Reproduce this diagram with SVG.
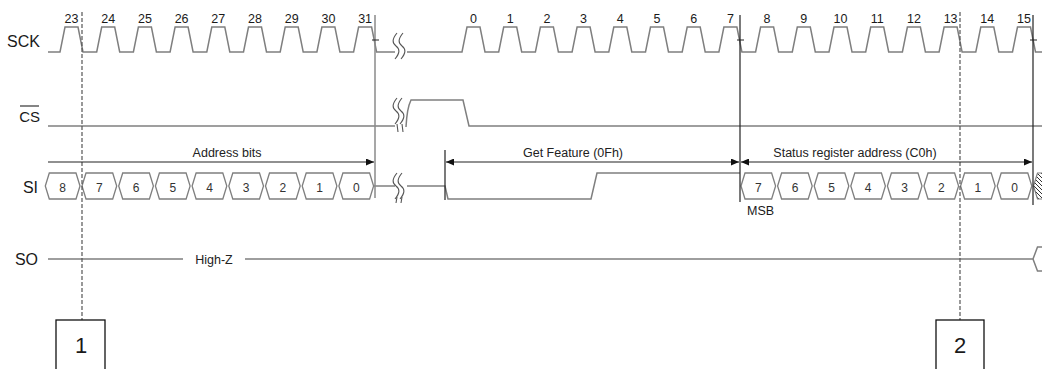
<svg xmlns="http://www.w3.org/2000/svg" width="1042" height="369" viewBox="0 0 1042 369">
<style>
.sig{fill:none;stroke:#7f7f7f;stroke-width:1.5;stroke-linejoin:miter}
.cell{fill:#fff;stroke:#7f7f7f;stroke-width:1.3}
.lbl{font-family:"Liberation Sans",Arial,sans-serif;fill:#1a1a1a}
.big{font-size:16px}
.num{font-size:12.5px;text-anchor:middle}
.bit{font-size:12px;text-anchor:middle;fill:#333}
.ann{font-size:12.5px;text-anchor:middle;fill:#222}
.vl{stroke:#222;stroke-width:1.2;fill:none}
.vg{stroke:#8a8a8a;stroke-width:1.5;fill:none}
.dash{stroke:#555;stroke-width:1.2;stroke-dasharray:4 2;fill:none}
.arr{stroke:#222;stroke-width:1.2;fill:none}
.brk{fill:none;stroke:#555;stroke-width:1.1}
.box{fill:#fff;stroke:#111;stroke-width:1.3}
</style>
<defs>
<marker id="ah" viewBox="0 0 8 7" refX="8" refY="3.5" markerWidth="8" markerHeight="7" markerUnits="userSpaceOnUse" orient="auto-start-reverse"><path d="M0,0 L8,3.5 L0,7 Z" fill="#111"/></marker>
<pattern id="hatch" width="4" height="4" patternUnits="userSpaceOnUse"><path d="M-1,-1 L5,5 M-1,3 L1,5 M3,-1 L5,1" stroke="#333" stroke-width="1"/></pattern>
<path id="brkS" d="M2,0 C-3,6 -3,10 1,13 C5,16 5,20 0,26"/>
</defs>

<g id="sck">
<text class="lbl big" x="40" y="47" text-anchor="end">SCK</text>
<path class="sig" d="M48,52 L60,52 L65,27 L78,27 L83,52 L96.7,52 L101.7,27 L114.7,27 L119.7,52 L133.4,52 L138.4,27 L151.4,27 L156.4,52 L170.1,52 L175.1,27 L188.1,27 L193.1,52 L206.8,52 L211.8,27 L224.8,27 L229.8,52 L243.5,52 L248.5,27 L261.5,27 L266.5,52 L280.2,52 L285.2,27 L298.2,27 L303.2,52 L316.9,52 L321.9,27 L334.9,27 L339.9,52 L353.6,52 L358.6,27 L371.6,27 L376.6,52 L395,52"/>
<path class="sig" d="M407,52 L462,52 L467,27 L480,27 L485,52 L498.7,52 L503.7,27 L516.7,27 L521.7,52 L535.4,52 L540.4,27 L553.4,27 L558.4,52 L572.1,52 L577.1,27 L590.1,27 L595.1,52 L608.8,52 L613.8,27 L626.8,27 L631.8,52 L645.5,52 L650.5,27 L663.5,27 L668.5,52 L682.2,52 L687.2,27 L700.2,27 L705.2,52 L718.9,52 L723.9,27 L736.9,27 L741.9,52 L755.6,52 L760.6,27 L773.6,27 L778.6,52 L792.3,52 L797.3,27 L810.3,27 L815.3,52 L829,52 L834,27 L847,27 L852,52 L865.7,52 L870.7,27 L883.7,27 L888.7,52 L902.4,52 L907.4,27 L920.4,27 L925.4,52 L939.1,52 L944.1,27 L957.1,27 L962.1,52 L975.8,52 L980.8,27 L993.8,27 L998.8,52 L1012.5,52 L1017.5,27 L1030.5,27 L1035.5,52 L1042,52"/>
<use href="#brkS" x="395" y="33" class="brk"/>
<use href="#brkS" x="401" y="33" class="brk"/>
<g class="lbl num">
<text x="71.5" y="22.5">23</text><text x="108.2" y="22.5">24</text><text x="144.9" y="22.5">25</text><text x="181.6" y="22.5">26</text><text x="218.3" y="22.5">27</text><text x="255" y="22.5">28</text><text x="291.7" y="22.5">29</text><text x="328.4" y="22.5">30</text><text x="365.1" y="22.5">31</text>
<text x="473.5" y="22.5">0</text><text x="510.2" y="22.5">1</text><text x="546.9" y="22.5">2</text><text x="583.6" y="22.5">3</text><text x="620.3" y="22.5">4</text><text x="657" y="22.5">5</text><text x="693.7" y="22.5">6</text><text x="730.4" y="22.5">7</text><text x="767.1" y="22.5">8</text><text x="803.8" y="22.5">9</text><text x="840.5" y="22.5">10</text><text x="877.2" y="22.5">11</text><text x="913.9" y="22.5">12</text><text x="950.6" y="22.5">13</text><text x="987.3" y="22.5">14</text><text x="1024" y="22.5">15</text>
</g>
</g>

<g id="cs">
<text class="lbl" x="40" y="121.5" text-anchor="end" font-size="15">CS</text>
<line x1="20" y1="106" x2="39" y2="106" stroke="#222" stroke-width="1.1"/>
<path class="sig" d="M48,126 L395,126"/>
<path class="sig" d="M406,127 Q407,108 411,100 L463,100 L469,126 L1042,126"/>
<use href="#brkS" x="395" y="98" class="brk" transform="translate(0,0)"/>
<use href="#brkS" x="400" y="98" class="brk"/>
<path class="brk" d="M397,124 L398,132 M402,124 L403,132"/>
</g>

<g id="si">
<text class="lbl big" x="38" y="193" text-anchor="end">SI</text>
<path class="cell" d="M45.3,186 L49.3,173 L76,173 L80,186 L76,199 L49.3,199Z"/>
<path class="cell" d="M82,186 L86,173 L112.7,173 L116.7,186 L112.7,199 L86,199Z"/>
<path class="cell" d="M118.7,186 L122.7,173 L149.4,173 L153.4,186 L149.4,199 L122.7,199Z"/>
<path class="cell" d="M155.4,186 L159.4,173 L186.1,173 L190.1,186 L186.1,199 L159.4,199Z"/>
<path class="cell" d="M192.1,186 L196.1,173 L222.8,173 L226.8,186 L222.8,199 L196.1,199Z"/>
<path class="cell" d="M228.8,186 L232.8,173 L259.5,173 L263.5,186 L259.5,199 L232.8,199Z"/>
<path class="cell" d="M265.5,186 L269.5,173 L296.2,173 L300.2,186 L296.2,199 L269.5,199Z"/>
<path class="cell" d="M302.2,186 L306.2,173 L332.9,173 L336.9,186 L332.9,199 L306.2,199Z"/>
<path class="cell" d="M338.9,186 L342.9,173 L369.6,173 L373.6,186 L369.6,199 L342.9,199Z"/>
<g class="lbl bit">
<text x="62.6" y="191.5">8</text><text x="99.4" y="191.5">7</text><text x="136" y="191.5">6</text><text x="172.8" y="191.5">5</text><text x="209.5" y="191.5">4</text><text x="246.2" y="191.5">3</text><text x="282.9" y="191.5">2</text><text x="319.6" y="191.5">1</text><text x="356.3" y="191.5">0</text>
</g>
<path class="sig" d="M373.6,186 L395,186"/>
<use href="#brkS" x="395" y="173" class="brk"/>
<use href="#brkS" x="400" y="173" class="brk"/>
<path class="brk" d="M397,197 L396,203 M402,197 L401,203"/>
<path class="sig" d="M407,186 L445,186 L448,199 L591,199 L597,173 L740,173"/>
<path class="cell" d="M741,186 L745,173 L771.6,173 L775.6,186 L771.6,199 L745,199Z"/>
<path class="cell" d="M777.6,186 L781.6,173 L808.2,173 L812.2,186 L808.2,199 L781.6,199Z"/>
<path class="cell" d="M814.2,186 L818.2,173 L844.8,173 L848.8,186 L844.8,199 L818.2,199Z"/>
<path class="cell" d="M850.8,186 L854.8,173 L881.4,173 L885.4,186 L881.4,199 L854.8,199Z"/>
<path class="cell" d="M887.4,186 L891.4,173 L918,173 L922,186 L918,199 L891.4,199Z"/>
<path class="cell" d="M924,186 L928,173 L954.6,173 L958.6,186 L954.6,199 L928,199Z"/>
<path class="cell" d="M960.6,186 L964.6,173 L991.2,173 L995.2,186 L991.2,199 L964.6,199Z"/>
<path class="cell" d="M997.2,186 L1001.2,173 L1027.8,173 L1031.8,186 L1027.8,199 L1001.2,199Z"/>
<path d="M1033.5,186 L1037.5,173 L1043,173 L1043,199 L1037.5,199Z" fill="url(#hatch)" stroke="#7f7f7f" stroke-width="1.2"/>
<g class="lbl bit">
<text x="758.3" y="191.5">7</text><text x="795" y="191.5">6</text><text x="831.5" y="191.5">5</text><text x="868.1" y="191.5">4</text><text x="904.7" y="191.5">3</text><text x="941.3" y="191.5">2</text><text x="977.9" y="191.5">1</text><text x="1014.5" y="191.5">0</text>
</g>
<text class="lbl" x="747" y="215" font-size="12.5">MSB</text>
</g>

<g id="so">
<text class="lbl big" x="38" y="265" text-anchor="end">SO</text>
<path class="sig" d="M48,259 L183,259 M245,259 L1033,259 M1043,247 L1037.5,247 L1033,259 L1037.5,271 L1043,271"/>
<text class="lbl ann" x="214" y="263.5">High-Z</text>
</g>

<g id="connectors">
<line class="vg" x1="375" y1="15" x2="375" y2="198"/>
<line class="vl" x1="740" y1="15" x2="740" y2="202"/>
<line class="vl" x1="1033" y1="15" x2="1033" y2="205"/>
<line class="vl" x1="445" y1="150" x2="445" y2="200"/>
<line class="dash" x1="82" y1="12" x2="82" y2="320"/>
<line class="dash" x1="960" y1="12" x2="960" y2="320"/>
<path class="vl" d="M372,40 L379,40 M737,40 L744,40 M1030,40 L1037,40"/>
<line class="arr" x1="48" y1="162" x2="374" y2="162" marker-end="url(#ah)"/>
<line class="arr" x1="446" y1="162" x2="739" y2="162" marker-start="url(#ah)" marker-end="url(#ah)"/>
<line class="arr" x1="741" y1="162" x2="1032" y2="162" marker-start="url(#ah)" marker-end="url(#ah)"/>
</g>

<g id="labels">
<text class="lbl ann" x="227" y="156.5" font-size="13">Address bits</text>
<text class="lbl ann" x="573" y="156.5" font-size="13">Get Feature (0Fh)</text>
<text class="lbl ann" x="855" y="156.5" font-size="13">Status register address (C0h)</text>
</g>

<g id="box1">
<rect class="box" x="56" y="320" width="49" height="60"/>
<text class="lbl" x="81" y="353" font-size="22" text-anchor="middle">1</text>
</g>
<g id="box2">
<rect class="box" x="936" y="320" width="48" height="60"/>
<text class="lbl" x="960" y="353" font-size="22" text-anchor="middle">2</text>
</g>
</svg>
